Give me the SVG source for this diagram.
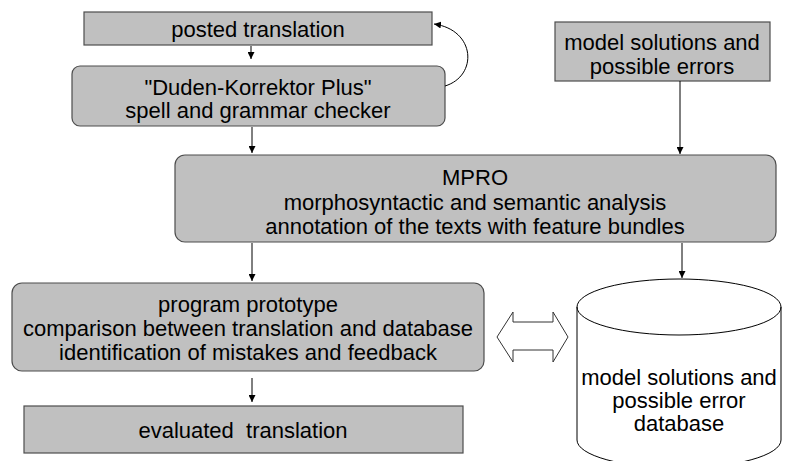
<svg xmlns="http://www.w3.org/2000/svg" width="787" height="461" viewBox="0 0 787 461">
<defs>
<style>
.box{fill:#c0c0c0;stroke:#4d4d4d;stroke-width:1.2}
.t{font-family:"Liberation Sans",Arial,sans-serif;font-size:22px;fill:#000;text-anchor:middle;dominant-baseline:central}
.c{fill:none;stroke:#000;stroke-width:1}
.cyl{fill:#fff;stroke:#000;stroke-width:1}
</style>
<marker id="ah" viewBox="0 0 10 10" refX="10" refY="5" markerWidth="7" markerHeight="7" orient="auto" markerUnits="userSpaceOnUse">
<path d="M0,0 L10,5 L0,10 z" fill="#000"/>
</marker>
</defs>
<g id="n1"><rect class="box" x="84" y="12" width="348" height="33"/><text class="t" x="258" y="29">posted translation</text></g>
<g id="n2"><rect class="box" x="72" y="66" width="373" height="60" rx="8"/><text class="t" x="258" y="87">"Duden-Korrektor Plus"</text><text class="t" x="258" y="110">spell and grammar checker</text></g>
<g id="n3"><rect class="box" x="555" y="22" width="215" height="59"/><text class="t" x="662" y="42">model solutions and</text><text class="t" x="662" y="66">possible errors</text></g>
<g id="n4"><rect class="box" x="175" y="155" width="601" height="87" rx="10"/><text class="t" x="475" y="177">MPRO</text><text class="t" x="475" y="202">morphosyntactic and semantic analysis</text><text class="t" x="475" y="226">annotation of the texts with feature bundles</text></g>
<g id="n5"><rect class="box" x="12" y="283" width="472" height="88" rx="10"/><text class="t" x="248" y="304">program prototype</text><text class="t" x="248" y="328">comparison between translation and database</text><text class="t" x="248" y="352">identification of mistakes and feedback</text></g>
<g id="n6"><rect class="box" x="24" y="406" width="439" height="47"/><text class="t" x="243" y="430" xml:space="preserve">evaluated  translation</text></g>
<g id="n7"><path class="cyl" d="M577,307 A102,28 0 0 1 781,307 L781,440 A102,28 0 0 1 577,440 Z"/><path class="c" d="M577,307 A102,28 0 0 0 781,307"/><text class="t" x="679" y="377">model solutions and</text><text class="t" x="679" y="400">possible error</text><text class="t" x="679" y="423">database</text></g>
<g id="connectors">
<line class="c" x1="251" y1="46" x2="251" y2="59" marker-end="url(#ah)"/>
<path class="c" d="M445,86 C478,76 476,30 434,24" marker-end="url(#ah)"/>
<line class="c" x1="252" y1="127" x2="252" y2="153" marker-end="url(#ah)"/>
<line class="c" x1="680" y1="81" x2="680" y2="154" marker-end="url(#ah)"/>
<line class="c" x1="252" y1="243" x2="252" y2="281" marker-end="url(#ah)"/>
<line class="c" x1="682" y1="243" x2="682" y2="278" marker-end="url(#ah)"/>
<line class="c" x1="252" y1="378" x2="252" y2="402" marker-end="url(#ah)"/>
<path d="M497,337 L513,312 L513,322 L553,322 L553,312 L568,337 L553,362 L553,350 L513,350 L513,362 Z" fill="#fff" stroke="#333" stroke-width="1"/>
</g>
</svg>
